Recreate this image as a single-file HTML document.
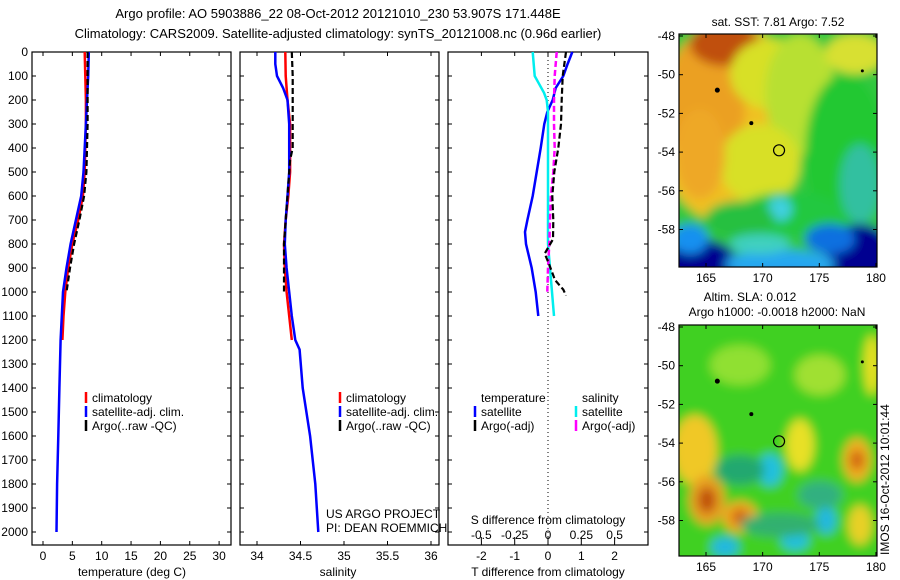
<!DOCTYPE html>
<html><head><meta charset="utf-8"><style>
html,body{margin:0;padding:0;background:#fff;}
svg{display:block;font-family:"Liberation Sans",sans-serif;}
text{font-size:12px;fill:#000;}
</style></head><body>
<svg id="fig" width="900" height="580" viewBox="0 0 900 580" xmlns="http://www.w3.org/2000/svg">
<defs>
<filter id="blur2" x="-30%" y="-30%" width="160%" height="160%"><feGaussianBlur stdDeviation="5"/></filter>
<clipPath id="clipTop"><rect x="679" y="34" width="198" height="233"/></clipPath>
<clipPath id="clipBot"><rect x="679" y="325" width="198" height="231"/></clipPath>
</defs>
<text x="338" y="18" text-anchor="middle" style="font-size:13px">Argo profile: AO 5903886_22 08-Oct-2012 20121010_230 53.907S 171.448E</text>
<text x="338" y="38" text-anchor="middle" style="font-size:13px">Climatology: CARS2009. Satellite-adjusted climatology: synTS_20121008.nc (0.96d earlier)</text>
<g id="plots"></g>
<g id="maps"></g>
</svg>
<script>
// ---- data ----
const depthTicks = [0,100,200,300,400,500,600,700,800,900,1000,1100,1200,1300,1400,1500,1600,1700,1800,1900,2000];
const tempTicks = [0,5,10,15,20,25,30];
const salTicks = [34,34.5,35,35.5,36];
const salTickLabels = ["34","34.5","35","35.5","36"];
const tdiffTicks = [-2,-1,0,1,2];
const sdiffTicks = [-0.5,-0.25,0,0.25,0.5];

const tSatDepth = [0,100,200,300,400,500,600,700,800,900,1000,1100,1200,1400,1600,1800,2000];
const tSatVal   = [7.8,7.7,7.5,7.3,7.1,6.9,6.5,5.6,4.7,4.0,3.4,3.2,3.0,2.8,2.6,2.4,2.3];
const tClimDepth = [0,100,200,300,400,500,600,700,800,900,1000,1100,1200];
const tClimVal   = [7.1,7.2,7.3,7.3,7.2,7.1,6.8,6.0,5.0,4.3,3.8,3.5,3.3];
const tArgoDepth = [0,100,200,300,400,500,600,700,800,900,1000];
const tArgoVal   = [7.6,7.6,7.6,7.6,7.5,7.4,7.0,6.2,5.3,4.6,4.0];

const sSatDepth = [0,50,100,150,200,300,500,600,700,800,900,1000,1100,1200,1240,1400,1600,1800,2000];
const sSatVal   = [34.21,34.21,34.23,34.30,34.35,34.37,34.37,34.35,34.33,34.32,34.34,34.37,34.40,34.44,34.49,34.525,34.61,34.67,34.705];
const sClimDepth = [0,100,200,300,500,600,700,800,900,1000,1100,1200];
const sClimVal   = [34.325,34.33,34.35,34.38,34.38,34.36,34.33,34.31,34.32,34.34,34.37,34.40];
const sArgoDepth = [0,100,200,300,400,450,500,600,700,800,900,1000];
const sArgoVal   = [34.40,34.41,34.41,34.41,34.41,34.38,34.37,34.35,34.33,34.31,34.31,34.31];

const dTSatDepth = [0,50,100,150,200,250,300,400,500,600,700,750,800,900,1000,1100];
const dTSatVal   = [0.73,0.59,0.46,0.23,0.14,-0.02,-0.11,-0.22,-0.34,-0.46,-0.62,-0.69,-0.66,-0.49,-0.37,-0.29];
const dSSatDepth = [0,100,130,170,200,250,400,600,800,900,1000,1100];
const dSSatVal   = [-0.115,-0.10,-0.07,-0.03,-0.01,0.0,0.0,0.0,0.0,0.015,0.03,0.045];
const dSArgoDepth = [0,100,200,300,400,500,600,700,800,900,1000];
const dSArgoVal   = [0.065,0.05,0.045,0.045,0.05,0.04,0.022,0.015,0.01,0.0,-0.005];
const dTArgoDepth = [0,100,200,300,400,500,600,700,780,840,880,950,990,1015];
const dTArgoVal   = [0.54,0.44,0.41,0.39,0.31,0.19,0.13,0.16,0.15,-0.1,0.02,0.21,0.46,0.54];

// ---- scales ----
const Y = d => 52 + d*0.24;
const XT = t => 43 + t*5.87;
const XS = s => 257 + (s-34)*87;
const XDT = t => 548 + t*33.3;
const XDS = s => 548 + s*133.3;
const NS="http://www.w3.org/2000/svg";
const plots=document.getElementById('plots');
function mk(tag,attrs,parent){const e=document.createElementNS(NS,tag);for(const k in attrs)e.setAttribute(k,attrs[k]);(parent||plots).appendChild(e);return e;}
function txt(x,y,s,anchor,parent){const e=mk('text',{x:x,y:y,'text-anchor':anchor||'start'},parent);e.textContent=s;return e;}

function frame(x0,x1,name){
  const r=mk('rect',{x:x0,y:52,width:x1-x0,height:493,fill:'none',stroke:'#000','stroke-width':1.2});
  
  
  depthTicks.forEach(d=>{mk('line',{x1:x0,x2:x0+4,y1:Y(d),y2:Y(d),stroke:'#000'});mk('line',{x1:x1-4,x2:x1,y1:Y(d),y2:Y(d),stroke:'#000'});});
}
function series(depths,vals,xf,color,w,dash,name){
  const pts=depths.map((d,i)=>xf(vals[i]).toFixed(1)+','+Y(d).toFixed(1)).join(' ');
  const p=mk('polyline',{points:pts,fill:'none',stroke:color,'stroke-width':w});
  if(dash)p.setAttribute('stroke-dasharray',dash);
  
  
}
function xticks(ticks,labels,xf,yLab){
  ticks.forEach((t,i)=>{const x=xf(t);mk('line',{x1:x,x2:x,y1:52,y2:56,stroke:'#000'});mk('line',{x1:x,x2:x,y1:541,y2:545,stroke:'#000'});
    if(yLab){const e=txt(x,yLab,labels[i],'middle');}});
}
function legend(x,y,color,label){
  mk('line',{x1:x,x2:x,y1:y-10,y2:y+1,stroke:color,'stroke-width':2.5});
  const e=txt(x+6,y,label);
  
  
}

// temperature panel
frame(32,231,'temperature-panel');
depthTicks.forEach(d=>{const e=txt(28,Y(d)+4,String(d),'end');});
xticks(tempTicks,tempTicks.map(String),XT,560);
let e=txt(132,576,'temperature (deg C)','middle');
series(tClimDepth,tClimVal,XT,'#f00',2.5,null,'temp-climatology-line');
series(tSatDepth,tSatVal,XT,'#00f',2.5,null,'temp-satellite-line');
series(tArgoDepth,tArgoVal,XT,'#000',2.2,'6,3','temp-argo-line');
legend(86,402,'#f00','climatology');legend(86,416,'#00f','satellite-adj. clim.');legend(86,430,'#000','Argo(..raw -QC)');

// salinity panel
frame(240,439,'salinity-panel');
xticks(salTicks,salTickLabels,XS,560);
e=txt(338,576,'salinity','middle');
series(sClimDepth,sClimVal,XS,'#f00',2.5,null,'sal-climatology-line');
series(sSatDepth,sSatVal,XS,'#00f',2.5,null,'sal-satellite-line');
series(sArgoDepth,sArgoVal,XS,'#000',2.2,'6,3','sal-argo-line');
legend(340,402,'#f00','climatology');legend(340,416,'#00f','satellite-adj. clim.');legend(340,430,'#000','Argo(..raw -QC)');
txt(326,518,'US ARGO PROJECT');txt(326,532,'PI: DEAN ROEMMICH');

// difference panel
frame(448,648,'difference-panel');
mk('line',{x1:548,x2:548,y1:52,y2:545,stroke:'#000','stroke-dasharray':'1,3'});
xticks(tdiffTicks,tdiffTicks.map(String),XDT,560);
sdiffTicks.forEach(s=>{const x=XDS(s);mk('line',{x1:x,x2:x,y1:537,y2:541,stroke:'#000'});const t=txt(x,539,String(s),'middle');});
txt(548,524,'S difference from climatology','middle');
e=txt(548,576,'T difference from climatology','middle');
series(dTSatDepth,dTSatVal,XDT,'#00f',2.5,null,'tdiff-satellite-line');
series(dSSatDepth,dSSatVal,XDS,'#0ee',2.5,null,'sdiff-satellite-line');
series(dSArgoDepth,dSArgoVal,XDS,'#f0f',2.5,'6,3','sdiff-argo-line');
series(dTArgoDepth,dTArgoVal,XDT,'#000',2.2,'6,3','tdiff-argo-line');
txt(481,402,'temperature');txt(582,402,'salinity');
legend(475,416,'#00f','satellite');legend(475,430,'#000','Argo(-adj)');
legend(576,416,'#0ee','satellite');legend(576,430,'#f0f','Argo(-adj)');

// ---- maps ----
const maps=document.getElementById('maps');
const mapLatTicks=[-48,-50,-52,-54,-56,-58];
const mapLonTicks=[165,170,175,180];
function drawMap(top,bottom,name,blobs,base){
  const g=mk('g',{},maps);
  
  
  const c=mk('g',{'clip-path':'url(#'+(name==='sst-map'?'clipTop':'clipBot')+')'},g);
  mk('rect',{x:679,y:top,width:198,height:bottom-top,fill:base},c);
  const bg=mk('g',{filter:'url(#blur2)'},c);
  mk('rect',{x:660,y:top-20,width:240,height:bottom-top+40,fill:base},bg);
  blobs.forEach(b=>mk('ellipse',{cx:b[0],cy:top+b[1],rx:b[2],ry:b[3],fill:b[4]},bg));
  mk('rect',{x:679,y:top,width:198,height:bottom-top,fill:'none',stroke:'#000','stroke-width':1.2},g);
  const y0=top+2;
  mapLatTicks.forEach(l=>{const y=y0+(-48-l)*19.35;mk('line',{x1:679,x2:683,y1:y,y2:y,stroke:'#000'},g);mk('line',{x1:873,x2:877,y1:y,y2:y,stroke:'#000'},g);txt(675,y+4,String(l),'end',g);});
  mapLonTicks.forEach(l=>{const x=706+(l-165)*11.33;mk('line',{x1:x,x2:x,y1:top,y2:top+4,stroke:'#000'},g);mk('line',{x1:x,x2:x,y1:bottom-4,y2:bottom,stroke:'#000'},g);txt(x,bottom+15,String(l),'middle',g);});
  const cx=706+(171.448-165)*11.33, cy=y0+5.907*19.35;
  const m=mk('circle',{cx:cx,cy:cy,r:5.5,fill:'none',stroke:'#000','stroke-width':1.2},g);
  
  
  [[166,-50.8,2.5],[169,-52.5,2],[178.8,-49.8,1.5]].forEach(p=>mk('circle',{cx:706+(p[0]-165)*11.33,cy:y0+(-48-p[1])*19.35,r:p[2],fill:'#000'},g));
}
drawMap(34,267,'sst-map',[
  [730,90,75,100,'#f0c020'],[705,70,40,70,'#eba024'],[725,10,35,22,'#c05010'],
  [770,40,40,35,'#d8e028'],[800,60,35,60,'#b8e030'],[760,130,40,40,'#d8e028'],
  [700,120,25,45,'#eea828'],[855,20,30,20,'#d8e030'],
  [845,120,40,80,'#20c830'],[860,150,20,40,'#30c0a0'],[790,180,55,22,'#20c840'],
  [780,175,12,12,'#40d0e0'],[740,185,35,18,'#28c040'],
  [700,235,40,30,'#000090'],[690,205,18,15,'#1890f0'],[860,225,35,35,'#000090'],
  [830,205,25,15,'#1070e0'],[780,230,55,14,'#28a8f0'],[760,210,30,10,'#40d0c0'],
  [790,250,60,12,'#1060e0']
],'#30c840');
drawMap(325,556,'sla-map',[
  [695,125,22,35,'#f0c828'],[707,175,18,25,'#e8a020'],[707,175,9,13,'#c05010'],
  [740,192,18,16,'#f0a820'],[740,192,8,8,'#d06010'],
  [857,135,14,22,'#f0b020'],[857,135,7,10,'#d06010'],[800,120,14,26,'#e8e028'],
  [770,145,12,16,'#20c0e0'],[826,195,10,14,'#20b8e0'],[795,215,14,10,'#20c0e0'],
  [725,222,14,10,'#20b8e0'],[860,200,12,20,'#e8d028'],
  [872,40,8,30,'#e8e020'],[740,40,30,20,'#90e030'],[820,50,25,20,'#a0e030'],
  [740,145,25,15,'#20a870'],[820,170,22,14,'#30b080'],[780,200,40,12,'#30b070']
],'#40d020');
function mtxt(x,y,s,name){const t=txt(x,y,s,'middle',maps);}
mtxt(778,26,'sat. SST: 7.81  Argo: 7.52','sst-map-title');
mtxt(750,301,'Altim. SLA: 0.012','sla-map-title');
mtxt(777,316,'Argo h1000: -0.0018 h2000: NaN','argo-height-title');
const rt=txt(0,0,'IMOS 16-Oct-2012 10:01:44','start',maps);
rt.setAttribute('transform','translate(889,555) rotate(-90)');


</script>
</body></html>
